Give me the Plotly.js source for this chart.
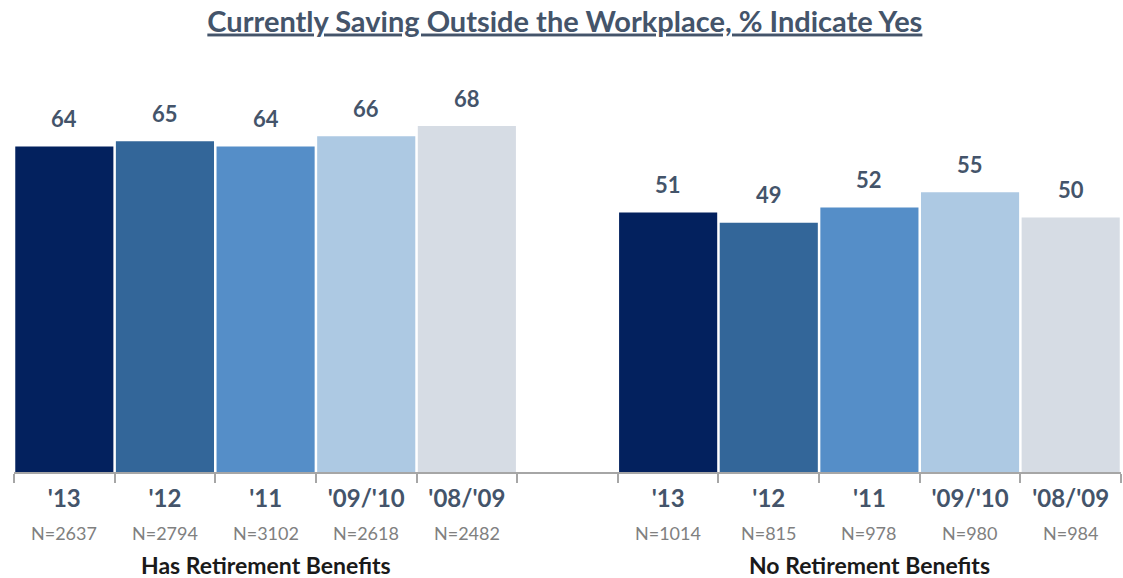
<!DOCTYPE html>
<html>
<head>
<meta charset="utf-8">
<script src="https://cdn.plot.ly/plotly-3.0.1.min.js"></script>
<style>html,body{margin:0;padding:0;background:#fff;}#chart{width:1123px;height:578px;}</style>
</head>
<body>
<div id="chart"></div>
<script>
// ---- data ----
const groups = ["Has Retirement Benefits", "No Retirement Benefits"];
const years = ["'13", "'12", "'11", "'09/'10", "'08/'09"];
const hasValues = [64, 65, 64, 66, 68];
const noValues = [51, 49, 52, 55, 50];
const hasN = [2637, 2794, 3102, 2618, 2482];
const noN = [1014, 815, 978, 980, 984];
const yearColors = ["#03215e", "#336699", "#558ec8", "#adc9e3", "#d6dce4"];

const values = [hasValues, noValues];
const ns = [hasN, noN];
const key = (g, y) => groups[g] + "|" + y;
const gapKey = "gap";

// category order: group 1 years, empty gap, group 2 years
const categoryOrder = [];
years.forEach(y => categoryOrder.push(key(0, y)));
categoryOrder.push(gapKey);
years.forEach(y => categoryOrder.push(key(1, y)));
const tickText = categoryOrder.map(k => k === gapKey ? "" : k.split("|")[1]);

const labelColor = "#44546a";
const FONT = "Lato, 'Open Sans', sans-serif";

const traces = years.map((y, i) => ({
  type: "bar",
  name: y,
  x: [key(0, y), key(1, y)],
  y: [values[0][i], values[1][i]],
  marker: { color: yearColors[i] },
  hoverinfo: "skip"
}));

const annotations = [];
groups.forEach((g, gi) => {
  years.forEach((y, i) => {
    // value labels
    annotations.push({
      x: key(gi, y), y: values[gi][i], xref: "x", yref: "y",
      text: "<b>" + values[gi][i] + "</b>", showarrow: false,
      yanchor: "middle", yshift: 28,
      font: { family: FONT, size: 22, color: labelColor }
    });
    // N labels
    annotations.push({
      x: key(gi, y), y: 0, xref: "x", yref: "paper",
      text: "N=" + ns[gi][i], showarrow: false,
      yanchor: "middle", yshift: -61,
      font: { family: FONT, size: 18, color: "#808080" }
    });
  });
  // group label centred under middle category
  annotations.push({
    x: key(gi, years[2]), y: 0, xref: "x", yref: "paper",
    text: "<b>" + g + "</b>", showarrow: false,
    yanchor: "middle", yshift: -93,
    font: { family: FONT, size: 23, color: "#1a1a1a" }
  });
});

const layout = {
  width: 1123, height: 578,
  margin: { l: 14, r: 2, t: 65, b: 106 },
  paper_bgcolor: "#fff", plot_bgcolor: "#fff",
  showlegend: false,
  barmode: "overlay",
  bargap: 0.025,
  title: {
    text: "<b><u>Currently Saving Outside the Workplace, % Indicate Yes</u></b>",
    font: { family: FONT, size: 29, color: labelColor },
    x: 0.503, xanchor: "center", y: 0.963, yanchor: "middle"
  },
  xaxis: {
    type: "category",
    categoryorder: "array", categoryarray: categoryOrder,
    tickmode: "array", tickvals: categoryOrder, ticktext: tickText,
    tickson: "boundaries", ticks: "outside", ticklen: 9, tickwidth: 2, tickcolor: "#a6a6a6",
    ticklabelstandoff: 4,
    showline: true, linecolor: "#a6a6a6", linewidth: 2,
    tickfont: { family: FONT, size: 24, color: labelColor, weight: "bold" },
    showgrid: false, zeroline: false, fixedrange: true
  },
  yaxis: {
    range: [0, 80], visible: false, showgrid: false, zeroline: false, fixedrange: true
  },
  annotations: annotations
};

Plotly.newPlot("chart", traces, layout, { displayModeBar: false, staticPlot: true });
</script>
</body>
</html>
